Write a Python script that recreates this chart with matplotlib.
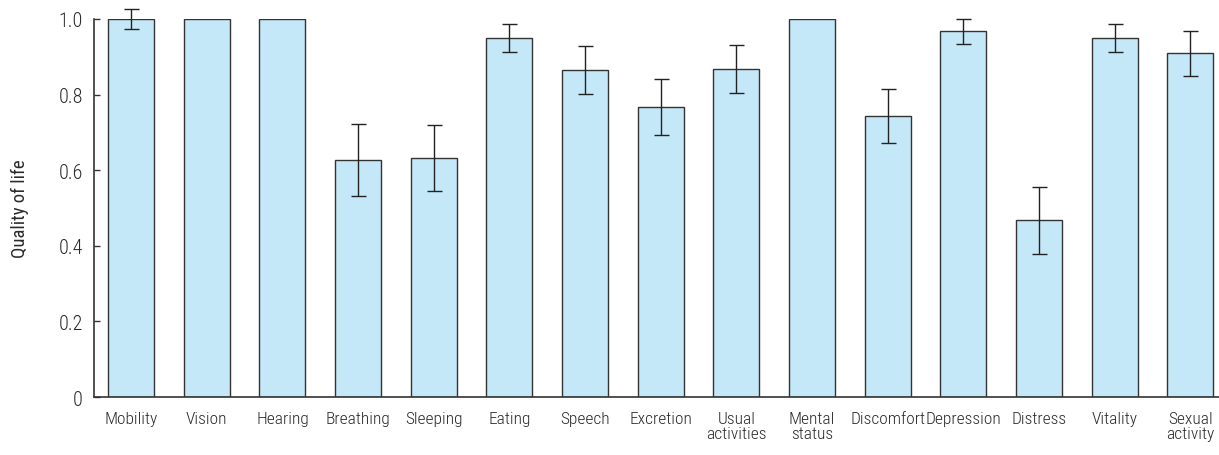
import matplotlib
matplotlib.use("Agg")
import matplotlib.pyplot as plt
import numpy as np

categories = ["Mobility", "Vision", "Hearing", "Breathing", "Sleeping", "Eating",
              "Speech", "Excretion", "Usual\nactivities", "Mental\nstatus", "Discomfort",
              "Depression", "Distress", "Vitality", "Sexual\nactivity"]
values = [1.0, 1.0, 1.0, 0.627, 0.633, 0.951, 0.865, 0.767, 0.867, 1.0, 0.743,
          0.967, 0.467, 0.951, 0.909]
errors = [0.026, 0, 0, 0.095, 0.087, 0.037, 0.063, 0.075, 0.063, 0, 0.072,
          0.034, 0.088, 0.037, 0.060]
yticks = [0, 0.2, 0.4, 0.6, 0.8, 1.0]
yticklabels = ["0", "0.2", "0.4", "0.6", "0.8", "1.0"]

plt.rcParams['font.family'] = ['Roboto Condensed', 'Archivo Narrow', 'Barlow Condensed', 'DejaVu Sans']
plt.rcParams['font.weight'] = 'light'

fig = plt.figure(figsize=(12.19, 4.56), dpi=100)
ax = fig.add_axes([94/1219, 1 - 398/456, 1 - 94/1219, 378/456])

x = np.arange(len(categories))
yerr = [e if e > 0 else np.nan for e in errors]
ax.bar(x, values, width=0.61, color="#C5E8F8", edgecolor="#333333", linewidth=1.0, zorder=2)
eb = ax.errorbar(x, values, yerr=yerr, fmt="none", ecolor="#222222", elinewidth=1.0,
                 capsize=5.4, capthick=1.0, zorder=3)
for art in list(eb.lines[1]) + list(eb.lines[2]):
    art.set_clip_on(False)

ax.set_xlim(-0.49, 14.38)
ax.set_ylim(0, 1.0)
ax.set_yticks(yticks)
ax.set_yticklabels(yticklabels)
ax.set_xticks(x)
ax.set_xticklabels(categories, fontsize=12.5, color="#2a2a2a", linespacing=1.0)
ax.tick_params(axis="x", length=0, pad=10)
ax.tick_params(axis="y", direction="in", length=4.5, width=1.0, color="#333333",
               labelsize=14.5, labelcolor="#2a2a2a", pad=8)
for s in ["top", "right"]:
    ax.spines[s].set_visible(False)
for s in ["left", "bottom"]:
    ax.spines[s].set_color("#333333")
    ax.spines[s].set_linewidth(1.2)
ax.set_ylabel("Quality of life", fontsize=13.5, color="#2a2a2a", labelpad=21)

fig.savefig("out.png", dpi=100)
